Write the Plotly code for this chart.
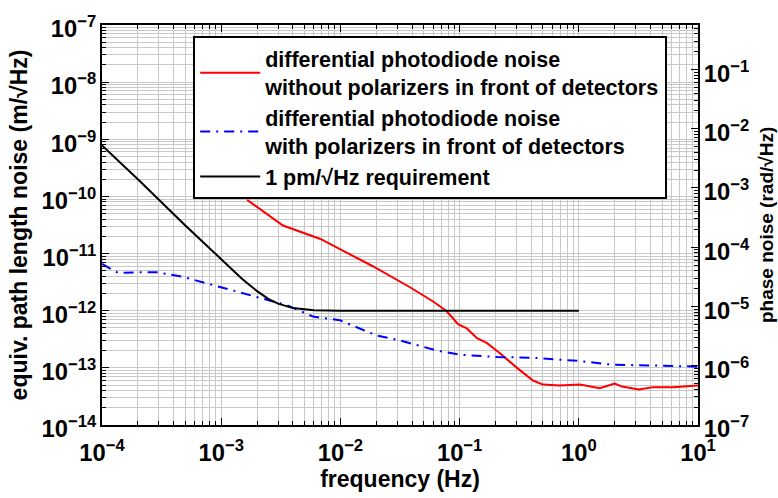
import plotly.graph_objects as go

# frequencies (Hz) and noise (m/sqrt(Hz))
f_red = [1.65e-3, 3.3e-3, 6.8e-3, 9.9e-3, 1.87e-2, 3.8e-2, 6.0e-2, 7.8e-2, 9.7e-2,
         0.115, 0.14, 0.17, 0.218, 0.303, 0.413, 0.5, 0.69, 1.02, 1.5, 2.0, 2.3,
         3.2, 4.2, 6.2, 10.0]
n_red = [8.7e-11, 3.1e-11, 1.8e-11, 1.2e-11, 6.0e-12, 2.6e-12, 1.45e-12, 9.8e-13, 5.8e-13,
         4.9e-13, 3.3e-13, 2.7e-13, 1.8e-13, 1.0e-13, 6.0e-14, 5.1e-14, 4.9e-14, 5.1e-14, 4.4e-14, 5.3e-14, 4.7e-14,
         4.2e-14, 4.6e-14, 4.6e-14, 4.9e-14]

f_blue = [1.0e-4, 1.17e-4, 1.36e-4, 1.97e-4, 2.9e-4, 4.8e-4, 8.5e-4, 1.85e-3, 3.6e-3,
          5.9e-3, 9.9e-3, 2.0e-2, 3.2e-2, 6.5e-2, 0.1, 0.206, 0.41, 1.0, 1.95, 4.2, 10.0]
n_blue = [6.6e-12, 5.4e-12, 4.6e-12, 4.7e-12, 4.7e-12, 3.9e-12, 2.8e-12, 1.8e-12, 1.24e-12,
          7.9e-13, 6.8e-13, 3.7e-13, 3.0e-13, 2.0e-13, 1.7e-13, 1.55e-13, 1.5e-13, 1.32e-13, 1.13e-13, 1.1e-13, 1.05e-13]

f_req = [1e-4, 2e-4, 5e-4, 1e-3, 1.5e-3, 2e-3, 2.5e-3, 3e-3, 4e-3, 6e-3, 1e-2, 1e-1, 1.0]
n_req = [7.8e-10, 2.0e-10, 3.1e-11, 7.9e-12, 3.6e-12, 2.2e-12, 1.6e-12, 1.33e-12, 1.11e-12, 1.02e-12, 1.0e-12, 1.0e-12, 1.0e-12]

x_range = [-4, 1]          # log10 Hz
y_range = [-14, -7]        # log10 m/sqrt(Hz)
phase_range = [-7, -0.25]  # log10 rad/sqrt(Hz)

FAMILY = "Liberation Sans, Arial"


def bold(size):
    return dict(family=FAMILY, size=size, color="black", weight="bold")


fig = go.Figure()
fig.add_trace(go.Scatter(x=f_red, y=n_red, mode="lines", line=dict(color="#ff0000", width=2),
                         name="differential photodiode noise<br>without polarizers in front of detectors"))
fig.add_trace(go.Scatter(x=f_blue, y=n_blue, mode="lines",
                         line=dict(color="#0000ff", width=2, dash="10px,6px,2px,6px"),
                         name="differential photodiode noise<br>with polarizers in front of detectors"))
fig.add_trace(go.Scatter(x=f_req, y=n_req, mode="lines", line=dict(color="black", width=2),
                         name="1 pm/√Hz requirement"))
# invisible trace to hold the phase axis
fig.add_trace(go.Scatter(x=[10**x_range[0], 10**x_range[1]], y=[10**v for v in phase_range],
                         mode="lines", yaxis="y2", line=dict(width=0),
                         showlegend=False, hoverinfo="skip"))

grid = "#c8c8c8"
axis_common = dict(type="log", showline=True, linecolor="black", linewidth=2,
                   ticks="inside", ticklen=7, tickcolor="black", tickwidth=1,
                   showgrid=True, gridcolor=grid, gridwidth=1,
                   exponentformat="power", dtick=1, zeroline=False,
                   minor=dict(ticks="inside", ticklen=4, tickcolor="black",
                              showgrid=True, gridcolor=grid, gridwidth=1))

fig.update_layout(
    width=778, height=498,
    margin=dict(l=102, r=80, t=23, b=70),
    paper_bgcolor="white", plot_bgcolor="white",
    font=bold(19),
    xaxis=dict(axis_common, range=x_range, mirror="ticks", ticklabelstandoff=6,
               labelalias={"1": "10<sup>0</sup>", "10": "10<sup>1</sup>"},
               title=dict(text="frequency (Hz)", standoff=4)),
    yaxis=dict(axis_common, range=y_range, ticklabelshift=4,
               title=dict(text="equiv. path length noise (m/√Hz)", standoff=8)),
    yaxis2=dict(axis_common, range=phase_range, ticklabelshift=4,
                overlaying="y", side="right", showgrid=False,
                minor=dict(ticks="inside", ticklen=4, tickcolor="black", showgrid=False)),
    legend=dict(x=0.153, y=0.972, xanchor="left", yanchor="top",
                bgcolor="white", bordercolor="black", borderwidth=2,
                font=bold(21.5), tracegroupgap=0, itemwidth=60),
)

# right-hand axis title, placed beside the phase tick labels
fig.add_annotation(text="phase noise (rad/√Hz)", xref="paper", yref="paper",
                   x=1, y=0.5, xshift=68, xanchor="center", yanchor="middle",
                   textangle=-90, showarrow=False, font=bold(19))

# drop the default page margin so the figure sits at the window corner
fig.write_html("out.html", config={"displayModeBar": False},
               post_script="document.body.style.margin='0';")
